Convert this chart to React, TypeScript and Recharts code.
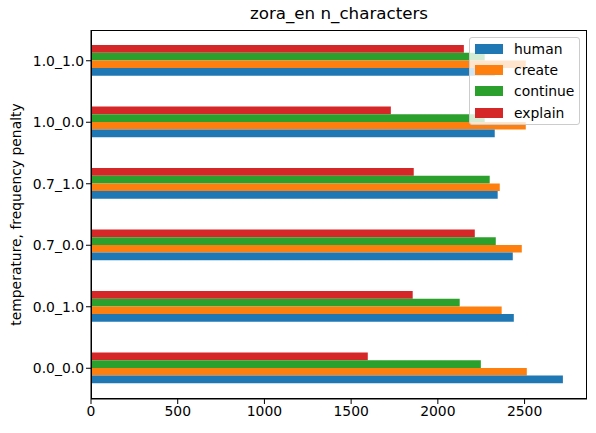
import React from 'react';
import { BarChart, Bar, XAxis, YAxis, Label } from 'recharts';

const categories = ['0.0_0.0', '0.0_1.0', '0.7_0.0', '0.7_1.0', '1.0_0.0', '1.0_1.0'];
const human = [2721, 2438, 2432, 2345, 2328, 2328];
const create = [2513, 2368, 2484, 2357, 2507, 2507];
const cont = [2248, 2126, 2334, 2299, 2270, 2270];
const explain = [1596, 1855, 2213, 1861, 1729, 2150];
const xTicks = [0, 500, 1000, 1500, 2000, 2500];

const SERIES = [
  { key: 'human', color: '#1f77b4' },
  { key: 'create', color: '#ff7f0e' },
  { key: 'continue', color: '#2ca02c' },
  { key: 'explain', color: '#d62728' },
];

const data = categories.map((c, i) => ({
  name: c,
  human: human[i],
  create: create[i],
  continue: cont[i],
  explain: explain[i],
}));

const FONT = '"DejaVu Sans", sans-serif';

function LegendBox() {
  return (
    <div
      style={{
        position: 'absolute',
        left: 469,
        top: 37,
        width: 111,
        height: 88,
        boxSizing: 'border-box',
        background: 'rgba(255,255,255,0.8)',
        border: '1px solid #cccccc',
        borderRadius: 3,
        padding: '0 0 0 5px',
        fontFamily: FONT,
        fontSize: 13.9,
        color: '#000',
      }}
    >
      {SERIES.map((s) => (
        <div key={s.key} style={{ display: 'flex', alignItems: 'center', height: 21.3 }}>
          <span style={{ display: 'inline-block', width: 28, height: 10, background: s.color, marginRight: 11 }} />
          <span>{s.key}</span>
        </div>
      ))}
    </div>
  );
}

export default function App() {
  return (
    <div style={{ position: 'absolute', left: 0, top: 0, width: 596, height: 433, background: '#fff', fontFamily: FONT }}>
      <div
        style={{
          position: 'absolute',
          left: 91,
          width: 496,
          top: 3,
          textAlign: 'center',
          fontSize: 16.7,
          color: '#000',
        }}
      >
        zora_en n_characters
      </div>
      <BarChart
        width={596}
        height={433}
        data={data}
        layout="vertical"
        margin={{ top: 30, right: 9, bottom: 0, left: 0 }}
        barGap={0}
        barSize={7.7}
      >
        <XAxis
          type="number"
          domain={[0, 2860]}
          ticks={xTicks}
          allowDataOverflow
          height={34}
          stroke="#000"
          tickSize={5}
          tick={{ fill: '#000', fontSize: 13.9, fontFamily: FONT }}
        />
        <YAxis
          type="category"
          dataKey="name"
          reversed
          width={91}
          stroke="#000"
          tickSize={5}
          tick={{ fill: '#000', fontSize: 13.9, fontFamily: FONT }}
        >
          <Label
            value="temperature, frequency penalty"
            angle={-90}
            position="insideLeft"
            offset={16}
            style={{ textAnchor: 'middle', fill: '#000', fontSize: 13.9, fontFamily: FONT }}
          />
        </YAxis>
        {SERIES.slice()
          .reverse()
          .map((s) => (
            <Bar key={s.key} dataKey={s.key} fill={s.color} isAnimationActive={false} />
          ))}
      </BarChart>
      {/* top and right spines */}
      <div
        style={{
          position: 'absolute',
          left: 91,
          top: 30,
          width: 496,
          height: 369,
          boxSizing: 'border-box',
          border: '1px solid #000',
          pointerEvents: 'none',
        }}
      />
      <LegendBox />
    </div>
  );
}
